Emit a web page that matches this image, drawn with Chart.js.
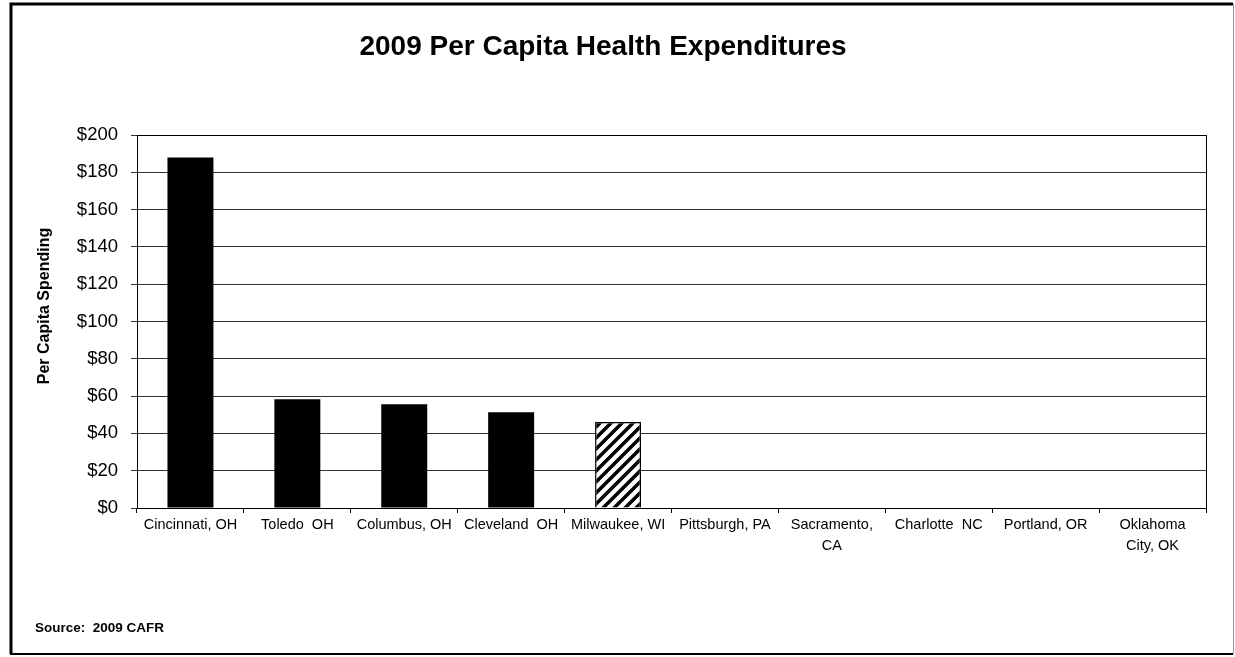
<!DOCTYPE html>
<html>
<head>
<meta charset="utf-8">
<title>2009 Per Capita Health Expenditures</title>
<script src="https://cdn.jsdelivr.net/npm/chart.js@4/dist/chart.umd.min.js"></script>
<style>
    html, body { margin: 0; padding: 0; background: #fff; }
    #myChart { display: block; }
</style>
</head>
<body>
<canvas id="myChart" width="1235" height="657"></canvas>
<script>
// Bring in data
const cities = [
    "Cincinnati, OH", "Toledo  OH", "Columbus, OH", "Cleveland  OH", "Milwaukee, WI",
    "Pittsburgh, PA", ["Sacramento,", "CA"], "Charlotte  NC", "Portland, OR", ["Oklahoma", "City, OK"]
];
const spending = [188, 58.3, 55.6, 51.3, 46.1, 0, 0, 0, 0, 0];
const yTicks = [0, 20, 40, 60, 80, 100, 120, 140, 160, 180, 200];
const highlighted = "Milwaukee, WI";

const FONT = "'Liberation Sans', Arial, Helvetica, sans-serif";
Chart.defaults.font.family = FONT;
Chart.defaults.color = "#000";

// diagonal stripes for the highlighted city
function makeHatch() {
    const s = 11;
    const c = document.createElement("canvas");
    c.width = s;
    c.height = s;
    const g = c.getContext("2d");
    g.fillStyle = "#fff";
    g.fillRect(0, 0, s, s);
    g.strokeStyle = "#000";
    g.lineWidth = 3.5;
    g.beginPath();
    g.moveTo(-s / 2, s / 2); g.lineTo(s / 2, -s / 2);
    g.moveTo(0, s); g.lineTo(s, 0);
    g.moveTo(s / 2, s * 1.5); g.lineTo(s * 1.5, s / 2);
    g.stroke();
    return g.createPattern(c, "repeat");
}

const ctx = document.getElementById("myChart").getContext("2d");
const hatch = makeHatch();

// frame, plot box, axis title and source note
const extras = {
    id: "extras",
    afterDraw(chart) {
        const c = chart.ctx;
        const a = chart.chartArea;
        c.save();
        c.strokeStyle = "#000";
        c.lineWidth = 1;
        c.strokeRect(a.left + 0.5, a.top + 0.5, a.right - a.left, a.bottom - a.top);

        // outer border
        c.lineWidth = 3;
        c.beginPath();
        c.moveTo(11, 654); c.lineTo(11, 4); c.lineTo(1233, 4);
        c.stroke();
        c.lineWidth = 2;
        c.beginPath();
        c.moveTo(10, 654); c.lineTo(1233, 654);
        c.stroke();
        c.strokeStyle = "#999";
        c.lineWidth = 1;
        c.beginPath();
        c.moveTo(1233.5, 4); c.lineTo(1233.5, 654);
        c.stroke();

        c.fillStyle = "#000";
        c.font = "bold 16px " + FONT;
        c.textAlign = "center";
        c.textBaseline = "middle";
        c.translate(45, 306);
        c.rotate(-Math.PI / 2);
        c.fillText("Per Capita Spending", 0, 0);
        c.restore();

        c.save();
        c.fillStyle = "#000";
        c.font = "bold 13.5px " + FONT;
        c.textAlign = "left";
        c.textBaseline = "middle";
        c.fillText("Source:  2009 CAFR", 35, 628);
        c.restore();
    }
};

new Chart(ctx, {
    type: "bar",
    data: {
        labels: cities,
        datasets: [
            {
                label: "Per Capita Spending",
                data: spending,
                backgroundColor: cities.map(c => c === highlighted ? hatch : "#000"),
                borderColor: "#000",
                borderWidth: cities.map(c => c === highlighted ? 1.5 : 0),
                categoryPercentage: 1,
                barPercentage: 0.43
            }
        ]
    },
    options: {
        responsive: false,
        animation: false,
        layout: { padding: { left: 0, right: 29, top: 0, bottom: 0 } },
        plugins: {
            legend: { display: false },
            tooltip: { enabled: false },
            title: {
                display: true,
                text: "2009 Per Capita Health Expenditures",
                color: "#000",
                font: { size: 28, weight: "bold", lineHeight: 1.2 },
                padding: { top: 30, bottom: 71.4 }
            }
        },
        scales: {
            x: {
                offset: true,
                afterFit: scale => { scale.height = 149; },
                grid: { drawOnChartArea: false, offset: true, tickLength: 5, color: "#000" },
                border: { color: "#000" },
                ticks: { padding: 1, maxRotation: 0, autoSkip: false, font: { size: 14.5, lineHeight: 1.45 } }
            },
            y: {
                min: 0,
                max: 200,
                afterFit: scale => { scale.width = 137; },
                afterBuildTicks: scale => { scale.ticks = yTicks.map(v => ({ value: v })); },
                grid: { color: "#333", tickLength: 6 },
                border: { color: "#000" },
                ticks: { padding: 13, font: { size: 18.5 }, callback: v => "$" + v }
            }
        }
    },
    plugins: [extras]
});
</script>
</body>
</html>
